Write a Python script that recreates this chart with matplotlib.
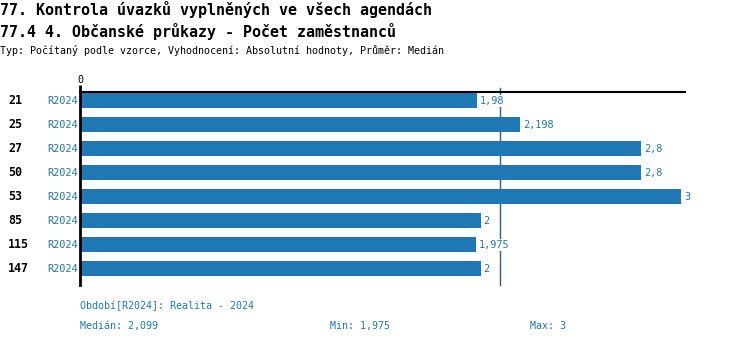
import matplotlib
matplotlib.use("Agg")
import matplotlib.pyplot as plt
from matplotlib.transforms import blended_transform_factory

# data
row_ids = ["21", "25", "27", "50", "53", "85", "115", "147"]
periods = ["R2024"] * 8
values = [1.98, 2.198, 2.8, 2.8, 3, 2, 1.975, 2]
value_labels = ["1,98", "2,198", "2,8", "2,8", "3", "2", "1,975", "2"]
median = 2.099
title1 = "77. Kontrola úvazků vyplněných ve všech agendách"
title2 = "77.4 4. Občanské průkazy - Počet zaměstnanců"
subtitle = "Typ: Počítaný podle vzorce, Vyhodnocení: Absolutní hodnoty, Průměr: Medián"
footer_period = "Období[R2024]: Realita - 2024"
footer_stats = ["Medián: 2,099", "Min: 1,975", "Max: 3"]

W, H = 750, 344
blue = "#1f77b4"
font = "DejaVu Sans Mono"

fig = plt.figure(figsize=(W / 100, H / 100), dpi=100)

def fx(px):
    return px / W

def fy(py):
    return 1 - py / H

ax = fig.add_axes([fx(80), fy(285), fx(685) - fx(80), fy(92) - fy(285)])
ypos = list(range(len(values)))
ax.barh(ypos, values, height=0.625, color=blue, zorder=2)
ax.set_xlim(0, 605 / 200.3)
ax.set_ylim(7.667, -0.375)

for s in ["right", "bottom"]:
    ax.spines[s].set_visible(False)
ax.spines["left"].set_linewidth(2)
ax.spines["top"].set_linewidth(1.5)
ax.xaxis.tick_top()
ax.set_xticks([0])
ax.set_xticklabels(["0"], fontsize=7.2, family=font)
ax.tick_params(axis="x", length=5, width=2, pad=0)
ax.set_yticks([])

# median line (behind bars)
ax.plot([median, median], [7.667, -0.55], color="#2b5d87", lw=1, clip_on=False, zorder=1)

for y, v, lab in zip(ypos, values, value_labels):
    ax.annotate(lab, (v, y), xytext=(2.2, 0), textcoords="offset points",
                va="center", ha="left", fontsize=7.4, color=blue, family=font,
                annotation_clip=False, zorder=4,
                bbox=dict(boxstyle="square,pad=0.1", fc="white", ec="none"))

tr = blended_transform_factory(fig.transFigure, ax.transData)
for y, rid, per in zip(ypos, row_ids, periods):
    ax.text(fx(8), y, rid, transform=tr, ha="left", va="center",
            fontsize=8.4, fontweight="bold", family=font, color="black")
    ax.text(fx(78), y, per, transform=tr, ha="right", va="center",
            fontsize=7.4, family=font, color=blue)

fig.text(fx(0), fy(9), title1, fontsize=10.8, fontweight="bold", family=font, va="center")
fig.text(fx(0), fy(31), title2, fontsize=10.8, fontweight="bold", family=font, va="center")
fig.text(fx(0), fy(50), subtitle, fontsize=7.2, family=font, va="center")

fig.text(fx(80), fy(306), footer_period, fontsize=7.2, family=font, color=blue, va="center")
for x, t in zip([80, 330, 530], footer_stats):
    fig.text(fx(x), fy(326), t, fontsize=7.2, family=font, color=blue, va="center")

fig.savefig("out.png", dpi=100)
